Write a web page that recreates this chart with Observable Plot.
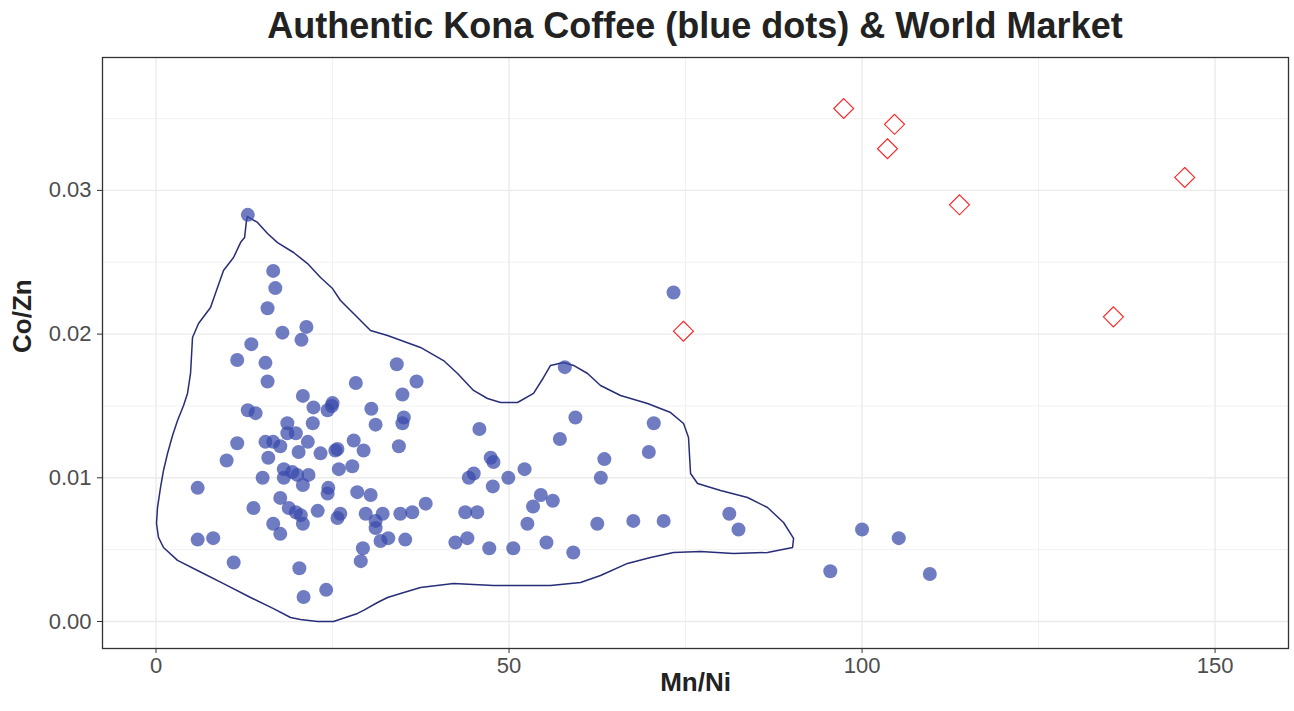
<!DOCTYPE html>
<html>
<head>
<meta charset="utf-8">
<script src="https://cdn.jsdelivr.net/npm/d3@7"></script>
<script src="https://cdn.jsdelivr.net/npm/@observablehq/plot@0.6"></script>
<style>
  html, body { margin: 0; padding: 0; background: #ffffff; }
  #wrap { width: 1294px; height: 711px; position: relative; overflow: hidden; }
  #title { position: absolute; left: 102px; width: 1186px; top: 4px; text-align: center;
           font: bold 36px "Liberation Sans", Arial, sans-serif; color: #222; line-height: 44px; }
  #chart { position: absolute; left: 0; top: 50px; }
  #chart g[aria-label="x-axis tick"], #chart g[aria-label="y-axis tick"] { stroke: #333333; }
  #chart g[aria-label="x-axis tick label"], #chart g[aria-label="y-axis tick label"] { fill: #4d4d4d; }
</style>
</head>
<body>
<div id="wrap">
  <div id="title">Authentic Kona Coffee (blue dots) &amp; World Market</div>
  <div id="chart"></div>
</div>
<script>
// Authentic Kona coffee samples (blue dots)
const konaMnNi = [
  13.0,16.6,16.9,15.8,17.9,21.3,20.6,13.5,11.5,15.5,15.8,20.8,25.0,24.9,24.3,22.3,13.0,14.1,22.2,18.6,
  11.5,15.5,16.6,17.6,18.6,19.8,21.5,20.2,23.3,25.4,10.0,15.9,18.1,19.3,18.1,20.0,21.6,15.1,5.9,20.8,
  24.4,24.3,17.6,18.8,19.8,20.5,13.8,22.9,25.7,16.6,17.6,20.8,5.9,8.1,11.0,20.3,24.1,20.9,
  34.1,28.3,36.9,34.9,30.5,35.1,34.9,31.1,45.8,28.0,29.4,25.7,34.4,47.4,47.8,27.8,25.9,44.3,45.0,49.9,
  47.7,28.5,30.4,26.1,29.7,31.1,32.1,34.6,36.3,38.2,43.8,45.5,31.1,31.8,32.9,35.3,29.3,29.0,42.4,44.1,
  47.2,50.6,
  57.9,59.4,70.5,57.2,69.8,63.5,63.0,52.2,54.5,56.2,53.4,52.6,62.5,67.6,71.9,81.2,82.5,55.3,59.1,73.3,
  100.0,105.2,95.5,109.6
];
const konaCoZn = [
  0.0283,0.0244,0.0232,0.0218,0.0201,0.0205,0.0196,0.0193,0.0182,0.0180,0.0167,0.0157,0.0152,0.0150,0.0147,0.0149,0.0147,0.0145,0.0138,0.0138,
  0.0124,0.0125,0.0125,0.0122,0.0131,0.0131,0.0125,0.0118,0.0117,0.0119,0.0112,0.0114,0.0106,0.0104,0.0100,0.0102,0.0102,0.0100,0.0093,0.0095,
  0.0093,0.0089,0.0086,0.0079,0.0076,0.0074,0.0079,0.0077,0.0072,0.0068,0.0061,0.0068,0.0057,0.0058,0.0041,0.0037,0.0022,0.0017,
  0.0179,0.0166,0.0167,0.0158,0.0148,0.0142,0.0138,0.0137,0.0134,0.0126,0.0119,0.0120,0.0122,0.0114,0.0111,0.0108,0.0106,0.0100,0.0103,0.0100,
  0.0094,0.0090,0.0088,0.0075,0.0075,0.0070,0.0075,0.0075,0.0076,0.0082,0.0076,0.0076,0.0065,0.0056,0.0058,0.0057,0.0051,0.0042,0.0055,0.0058,
  0.0051,0.0051,
  0.0177,0.0142,0.0138,0.0127,0.0118,0.0113,0.0100,0.0106,0.0088,0.0084,0.0080,0.0068,0.0068,0.0070,0.0070,0.0075,0.0064,0.0055,0.0048,0.0229,
  0.0064,0.0058,0.0035,0.0033
];
// World market samples (red diamonds)
const worldMnNi = [97.4, 104.6, 103.6, 113.8, 145.7, 135.6, 74.7];
const worldCoZn = [0.0357, 0.0346, 0.0329, 0.0290, 0.0309, 0.0212, 0.0202];
// Density contour around the Kona samples
const contourMnNi = [
  12.96,14.38,15.79,17.21,19.48,21.46,23.30,25.00,26.13,28.26,30.38,32.79,37.46,40.72,42.71,44.97,46.95,48.80,51.20,53.47,
  54.89,55.88,57.72,59.14,61.12,62.96,65.79,69.62,72.88,74.72,75.42,75.71,76.70,79.96,83.78,86.61,88.88,90.30,90.16,86.61,
  81.80,77.12,73.30,70.04,66.78,62.96,60.13,55.88,51.20,47.80,42.14,37.46,34.63,32.79,31.37,29.39,28.54,25.14,22.88,20.47,
  19.05,16.64,13.39,9.56,5.88,3.05,1.06,0.35,0.07,0.21,0.64,1.06,1.63,2.34,3.05,3.90,4.46,4.89,5.17,6.02,
  7.72,8.71,9.56,10.98,11.97,12.54,12.82,12.96
];
const contourCoZn = [
  0.02818,0.02777,0.02700,0.02637,0.02568,0.02491,0.02394,0.02317,0.02234,0.02129,0.02025,0.01990,0.01907,0.01816,0.01726,0.01608,0.01552,0.01524,0.01524,0.01587,
  0.01698,0.01782,0.01802,0.01782,0.01726,0.01642,0.01573,0.01517,0.01454,0.01378,0.01280,0.01030,0.00960,0.00912,0.00863,0.00793,0.00689,0.00578,0.00515,0.00480,
  0.00473,0.00487,0.00480,0.00445,0.00404,0.00320,0.00271,0.00251,0.00251,0.00251,0.00264,0.00237,0.00195,0.00167,0.00132,0.00077,0.00056,0.00000,0.00000,0.00014,
  0.00028,0.00090,0.00167,0.00264,0.00355,0.00425,0.00515,0.00585,0.00682,0.00793,0.00933,0.01051,0.01169,0.01294,0.01399,0.01503,0.01587,0.01726,0.01976,0.02074,
  0.02185,0.02324,0.02443,0.02533,0.02637,0.02672,0.02791,0.02818
];
// Axis ticks
const xMajor = [0, 50, 100, 150];
const xMinor = [25, 75, 125];
const yMajor = [0, 0.01, 0.02, 0.03];
const yMinor = [0.005, 0.015, 0.025, 0.035];
const yTickLabels = ["0.00", "0.01", "0.02", "0.03"];
const xLabel = "Mn/Ni";
const yLabel = "Co/Zn";

const kona = konaMnNi.map((x, i) => ({x, y: konaCoZn[i]}));
const world = worldMnNi.map((x, i) => ({x, y: worldCoZn[i]}));
const contour = contourMnNi.map((x, i) => ({x, y: contourCoZn[i]}));

const font = '"Liberation Sans", Arial, sans-serif';

const chart = Plot.plot({
  width: 1294,
  height: 661,
  marginLeft: 102,
  marginRight: 6,
  marginTop: 7,
  marginBottom: 63,
  style: {fontFamily: font, background: "#ffffff", overflow: "visible"},
  x: {domain: [-7.58, 160.4]},
  y: {domain: [-0.00188, 0.03925]},
  marks: [
    Plot.ruleX(xMinor, {stroke: "#ebebeb", strokeWidth: 0.7}),
    Plot.ruleY(yMinor, {stroke: "#ebebeb", strokeWidth: 0.7}),
    Plot.ruleX(xMajor, {stroke: "#ebebeb", strokeWidth: 1.4}),
    Plot.ruleY(yMajor, {stroke: "#ebebeb", strokeWidth: 1.4}),
    Plot.line(contour, {x: "x", y: "y", stroke: "#282d78", strokeWidth: 1.5, curve: "linear"}),
    Plot.dot(kona, {x: "x", y: "y", r: 7, fill: "#3949ab", fillOpacity: 0.72, stroke: "none"}),
    Plot.dot(world, {x: "x", y: "y", symbol: "diamond2", r: 9, fill: "none", stroke: "#ff2020", strokeWidth: 1.1}),
    Plot.frame({stroke: "#333333", strokeWidth: 1.3}),
    Plot.axisX(xMajor, {tickSize: 5, tickPadding: 4, fontSize: 22, label: null}),
    Plot.axisY(yMajor, {tickSize: 5, tickPadding: 6, fontSize: 22, label: null,
      tickFormat: (d) => yTickLabels[yMajor.indexOf(d)]}),
    Plot.text([xLabel], {frameAnchor: "bottom", dy: 42, fontSize: 26, fontWeight: "bold", fill: "#222"}),
    Plot.text([yLabel], {frameAnchor: "left", dx: -80, rotate: -90, fontSize: 26, fontWeight: "bold", fill: "#222"})
  ]
});
document.getElementById("chart").appendChild(chart);
</script>
</body>
</html>
